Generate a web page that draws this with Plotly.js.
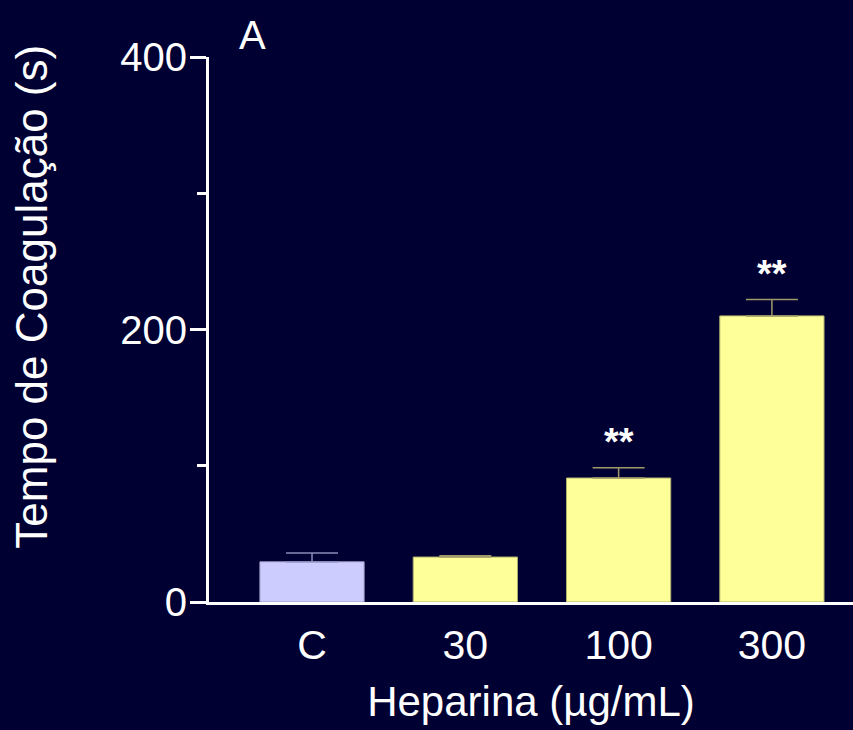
<!DOCTYPE html>
<html>
<head>
<meta charset="utf-8">
<script src="https://cdn.plot.ly/plotly-3.0.1.min.js"></script>
<style>html,body{margin:0;padding:0;background:#000033;}</style>
</head>
<body>
<div id="chart" style="width:853px;height:730px;"></div>
<script>
const categories = ['C', '30', '100', '300'];
const means = [29.5, 33, 91, 210];
const sems = [6.5, 1, 7.5, 12];
const significance = ['', '', '**', '**'];
const barColors = ['#CCCCFF', '#FFFF99', '#FFFF99', '#FFFF99'];
const panelLabel = 'A';
const xTitle = 'Heparina (\u00b5g/mL)';
const yTitle = 'Tempo de Coagula\u00e7\u00e3o (s)';

const font = 'Arial, "Liberation Sans", sans-serif';

const traces = [
  {
    type: 'bar',
    x: [0],
    y: means.slice(0, 1),
    marker: {color: barColors[0], line: {color: '#9a9ac0', width: 1}},
    width: 0.68,
    error_y: {type: 'data', array: sems.slice(0, 1), symmetric: false, arrayminus: [0], color: '#8a8ab8', thickness: 1.5, width: 26},
    hoverinfo: 'none'
  },
  {
    type: 'bar',
    x: [1, 2, 3],
    y: means.slice(1),
    marker: {color: barColors[1], line: {color: '#b0b070', width: 1}},
    width: 0.68,
    error_y: {type: 'data', array: sems.slice(1), symmetric: false, arrayminus: [0, 0, 0], color: '#a09a6a', thickness: 1.5, width: 26},
    hoverinfo: 'none'
  }
];

const annotations = [];
categories.forEach((c, i) => {
  if (significance[i]) {
    annotations.push({
      x: i, y: means[i] + sems[i], xref: 'x', yref: 'y',
      text: '<b>' + significance[i] + '</b>', showarrow: false, yanchor: 'middle', yshift: 26,
      font: {family: font, size: 38, color: '#ffffff'}
    });
  }
});
annotations.push({
  xref: 'paper', yref: 'paper', x: 0.068, y: 1.0, yanchor: 'bottom', xanchor: 'center', yshift: -2,
  text: panelLabel, showarrow: false, font: {family: font, size: 40, color: '#ffffff'}
});
annotations.push({
  xref: 'paper', yref: 'paper', x: -0.275, y: 0.56, xanchor: 'center', yanchor: 'middle',
  text: yTitle, textangle: -90, showarrow: false, font: {family: font, size: 44, color: '#ffffff'}
});

const layout = {
  width: 853, height: 730,
  margin: {l: 209, r: 0, t: 57, b: 128},
  paper_bgcolor: '#000033',
  plot_bgcolor: '#000033',
  showlegend: false,
  xaxis: {
    type: 'linear',
    range: [-0.672, 3.529],
    tickvals: [0, 1, 2, 3],
    ticktext: categories,
    showline: true, linecolor: '#ffffff', linewidth: 3,
    ticks: 'outside', ticklen: 5, tickcolor: 'rgba(0,0,0,0)',
    showgrid: false, zeroline: false,
    tickfont: {family: font, size: 41, color: '#ffffff'},
    title: {text: xTitle, font: {family: font, size: 42, color: '#ffffff'}, standoff: 20}
  },
  yaxis: {
    range: [0, 400],
    tickvals: [0, 200, 400],
    ticktext: ['0', '200', '400'],
    ticks: 'outside', ticklen: 16, tickwidth: 3, tickcolor: '#ffffff',
    ticklabelstandoff: -5,
    minor: {tickvals: [100, 300], ticks: 'outside', ticklen: 9, tickwidth: 3, tickcolor: '#ffffff'},
    showline: true, linecolor: '#ffffff', linewidth: 3,
    showgrid: false, zeroline: false,
    tickfont: {family: font, size: 40, color: '#ffffff'}
  },
  annotations: annotations
};

Plotly.newPlot('chart', traces, layout, {displayModeBar: false, staticPlot: true});
</script>
</body>
</html>
